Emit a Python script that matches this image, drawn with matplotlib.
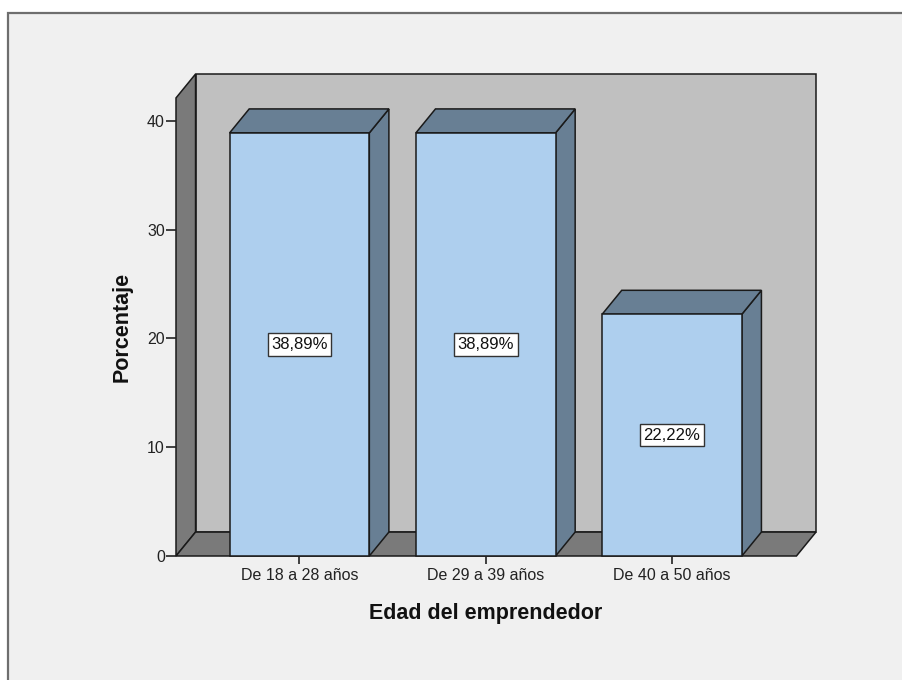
import matplotlib
matplotlib.use("Agg")
import matplotlib.pyplot as plt
from matplotlib.patches import Polygon, Rectangle

# data
categories = ["De 18 a 28 años", "De 29 a 39 años", "De 40 a 50 años"]
percentages = [38.89, 38.89, 22.22]
value_labels = ["38,89%", "38,89%", "22,22%"]
y_ticks = [0, 10, 20, 30, 40]

# style
front_color = "#aecfee"
shade_color = "#687f94"
wall_color = "#c0c0c0"
floor_color = "#7a7a7a"
edge = "#1a1a1a"
bar_width = 0.75
dx, dy = 0.105, 2.2          # 3D depth offset (data units)
x_lo, x_hi = -0.663, 2.773
y_top = 44.3
plt.rcParams["font.family"] = ["Liberation Sans", "DejaVu Sans"]

fig = plt.figure(figsize=(9.03, 6.8), dpi=100, facecolor="white")
fig.patches.append(Rectangle((8 / 903, -0.1), 1.2, (680 - 12.5) / 680 + 0.1,
                             transform=fig.transFigure, facecolor="#f0f0f0",
                             edgecolor="#6e6e6e", linewidth=1.6, zorder=-10))

ax = fig.add_axes([176 / 903, 124 / 680, 640 / 903, 482 / 680])
ax.set_xlim(x_lo, x_hi)
ax.set_ylim(0, y_top)
ax.patch.set_visible(False)
for s in ax.spines.values():
    s.set_visible(False)

x0, x1 = x_lo, x_hi - dx
wall_h = y_top - dy
lw = 1.1

# back wall, left wall, floor
ax.add_patch(Polygon([(x0 + dx, dy), (x1 + dx, dy), (x1 + dx, wall_h + dy), (x0 + dx, wall_h + dy)],
                     closed=True, facecolor=wall_color, edgecolor=edge, linewidth=lw, clip_on=False))
ax.add_patch(Polygon([(x0, 0), (x0 + dx, dy), (x0 + dx, wall_h + dy), (x0, wall_h)],
                     closed=True, facecolor=floor_color, edgecolor=edge, linewidth=lw, clip_on=False))
ax.add_patch(Polygon([(x0, 0), (x1, 0), (x1 + dx, dy), (x0 + dx, dy)],
                     closed=True, facecolor=floor_color, edgecolor=edge, linewidth=lw, clip_on=False))

# bars
for i, (v, lab) in enumerate(zip(percentages, value_labels)):
    xl = i - bar_width / 2
    xr = i + bar_width / 2
    ax.add_patch(Polygon([(xr, 0), (xr + dx, dy), (xr + dx, v + dy), (xr, v)],
                         closed=True, facecolor=shade_color, edgecolor=edge, linewidth=lw, clip_on=False))
    ax.add_patch(Polygon([(xl, v), (xl + dx, v + dy), (xr + dx, v + dy), (xr, v)],
                         closed=True, facecolor=shade_color, edgecolor=edge, linewidth=lw, clip_on=False))
    ax.add_patch(Rectangle((xl, 0), bar_width, v, facecolor=front_color,
                           edgecolor=edge, linewidth=lw, clip_on=False))
    ax.text(i, v / 2, lab, ha="center", va="center", fontsize=12, color="#111111",
            bbox=dict(boxstyle="square,pad=0.22", facecolor="white", edgecolor="#333333", linewidth=1.0))

ax.set_yticks(y_ticks)
ax.set_yticklabels([str(t) for t in y_ticks])
ax.set_xticks(range(len(categories)))
ax.set_xticklabels(categories)
ax.tick_params(axis="y", length=7, width=1.2, pad=1, labelsize=11.5, color="#222222", labelcolor="#222222")
ax.tick_params(axis="x", length=6, width=1.2, pad=3, labelsize=11.5, color="#222222", labelcolor="#222222")

fig.text(122 / 903, 1 - 327 / 680, "Porcentaje", rotation=90, ha="center", va="center",
         fontsize=15.5, fontweight="bold", color="#111111")
fig.text(486 / 903, 1 - 613 / 680, "Edad del emprendedor", ha="center", va="center",
         fontsize=15.5, fontweight="bold", color="#111111")

fig.savefig("out.png", dpi=100, facecolor=fig.get_facecolor())
